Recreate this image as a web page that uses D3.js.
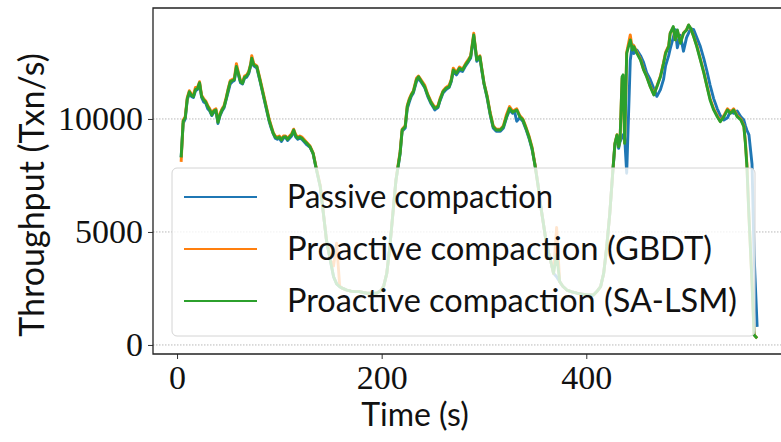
<!DOCTYPE html>
<html><head><meta charset="utf-8">
<script src="https://cdn.jsdelivr.net/npm/d3@7"></script>
<style>html,body{margin:0;padding:0;background:#fff;}svg{display:block;}</style>
</head><body>
<svg id="c" width="781" height="442"></svg>
<script>
const times = [4,6,8,10,12,14,16,18,20,22,24,26,28,30,32,34,36,38,40,42,44,46,48,50,52,54,56,58,60,62,64,66,68,70,72,73,75,78,81,84,87,90,92,94,96,98,100,102,104,106,108,110,112,114,116,118,120,122,124,127,130,133,136,140,143,146,150,153,156,159,162,166,170,174,178,182,186,190,195,199,202,205,208,211,214,216,218,220,223,225,227,229,231,234,236,239,242,245,248,250,252,255,257,260,263,266,268,270,273,276,279,282,285,287,290,291,293,296,298,300,303,306,309,312,316,319,322,325,328,330,332,335,338,341,344,347,350,353,355,358,360,363,365,368,371,374,377,381,386,391,396,401,407,411,414,417,420,423,426,428,430,431.6,433,435,436,437.5,439.5,443,445,446.5,449.5,453,456,459,462.5,466,469,472.5,475.5,477.5,480.5,482,485,487,489,492,495,498,500,502,505,508,511.5,515,518,521,524.5,528,531,534.5,538,541,544,547.5,551,554,555.5,557,559,562,564,567];

const passive = [8300,9800,10000,10850,11150,11000,10950,11250,11300,11550,10950,10750,10700,10450,10350,10150,10300,10350,9800,10150,10350,10500,10850,11200,11550,11650,11700,12250,11950,11600,11550,11800,11850,12000,12350,12600,12350,12250,11700,11100,10500,9900,9600,9350,9150,9100,9150,9000,9150,9200,9050,9150,9250,9450,9200,9100,9150,9100,9000,8850,8750,8450,7800,7000,5830,4650,3700,3020,2700,2580,2500,2430,2380,2360,2360,2320,2290,2290,2290,2400,2600,3170,4350,5830,7300,7850,8450,9450,9600,10450,10750,11000,11150,11650,11800,11600,11400,11000,10700,10550,10400,10500,10800,11150,11300,11400,11650,12100,11950,12150,12100,12350,12550,12700,13650,13300,12550,12700,12100,11550,10950,10200,9600,9450,9450,9600,10050,10400,10250,10300,9900,10050,9900,9550,9150,8650,7950,7050,6300,5400,4790,4100,3760,3170,3020,2800,2600,2430,2350,2290,2250,2210,2210,2400,2580,3170,4350,5830,7700,8850,9250,8700,9000,9200,9300,9200,7600,12600,13300,12900,13050,12800,12500,12050,11750,11350,11000,11300,11750,12350,12800,13100,13600,13950,13150,13700,13000,13600,13800,14000,13950,13600,13200,12650,12100,11500,10900,10450,10150,9950,10050,10350,10250,10350,10100,9950,9700,9500,9300,8000,4000,800,300];

const gbdt = [8100,9950,10100,10950,11250,11100,11050,11400,11400,11650,11050,10900,10800,10600,10450,10250,10400,10450,9900,10250,10450,10600,10950,11350,11700,11750,11800,12450,12050,11700,11650,11900,11950,12100,12450,12800,12450,12350,11800,11200,10600,10000,9700,9400,9250,9200,9250,9100,9250,9250,9150,9250,9350,9550,9300,9200,9250,9200,9100,8950,8800,8500,7850,7050,5850,4650,3750,3500,4500,2600,2500,2430,2380,2360,2360,2320,2290,2290,2290,2400,2600,3170,4350,5830,7300,7950,8550,9550,9700,10600,10900,11100,11250,11800,11900,11700,11500,11100,10800,10650,10500,10600,10900,11250,11400,11500,11750,12250,12050,12300,12200,12450,12650,12800,13800,13400,12650,12800,12200,11600,11050,10300,9700,9550,9550,9700,10200,10550,10350,10400,10450,10150,10000,9650,9250,8750,7950,7000,6270,5400,4790,4100,3760,3170,5200,2800,2600,2430,2350,2290,2250,2210,2210,2400,2580,3170,4350,5830,7740,8920,9300,8800,9100,11800,11900,8950,12950,13720,13100,13250,12950,12650,12200,11900,11450,11100,11450,11900,12500,12950,13250,13800,14050,13500,13900,13400,13800,13950,14150,14000,13650,13250,12650,12050,11450,10900,10450,10150,9900,10150,10450,10300,10450,10150,10000,9700,9000,8000,5700,2750,450,300];

const salsm = [8300,9900,10050,10900,11200,11050,10990,11300,11350,11600,11000,10850,10750,10550,10400,10180,10350,10400,9850,10180,10400,10550,10900,11300,11650,11700,11750,12320,12000,11650,11580,11850,11900,12050,12400,12690,12390,12320,11730,11140,10540,9950,9650,9370,9200,9150,9200,9070,9200,9220,9100,9200,9300,9510,9250,9150,9200,9150,9050,8920,8770,8480,7820,7000,5830,4650,3700,3020,2700,2580,2500,2430,2380,2360,2360,2320,2290,2290,2290,2400,2600,3170,4350,5830,7300,7890,8480,9510,9660,10540,10840,11060,11210,11730,11870,11650,11430,11060,10750,10600,10470,10540,10840,11210,11360,11430,11700,12170,12020,12240,12170,12400,12600,12760,13720,13350,12610,12760,12170,11580,10990,10250,9660,9510,9510,9660,10100,10470,10300,10350,10400,10100,9960,9600,9200,8700,7900,7000,6270,5400,4790,4100,3760,3170,4000,2800,2600,2430,2350,2290,2250,2210,2210,2400,2580,3170,4350,5830,7740,8920,9290,8770,9070,11870,11950,8920,12900,13500,13050,13200,12900,12610,12170,11870,11430,11060,11430,11870,12460,12900,13200,13790,14090,13500,13940,13350,13790,13940,14160,14010,13640,13200,12610,12020,11430,10840,10400,10100,9880,10100,10400,10250,10400,10100,9960,9660,8920,7890,5680,2730,440,300];

const seriesNames = ["Passive compaction","Proactive compaction (GBDT)","Proactive compaction (SA-LSM)"];
const seriesColors = ["#1f77b4","#ff7f0e","#2ca02c"];
const seriesValues = [passive, gbdt, salsm];
const xTicks = [0,200,400];
const yTicks = [0,5000,10000];

const svg = d3.select("#c");
const L = 153, R = 795, T = 8, B = 354;
const x = d3.scaleLinear().domain([-23.5, 604]).range([L, R]);
const y = d3.scaleLinear().domain([-400, 14910]).range([B, T]);

svg.append("defs").append("clipPath").attr("id","clip")
  .append("rect").attr("x",L).attr("y",T).attr("width",R-L).attr("height",B-T);

// grid
svg.append("g").selectAll("line").data(yTicks).join("line")
  .attr("x1",L).attr("x2",R).attr("y1",d=>y(d)).attr("y2",d=>y(d))
  .attr("stroke","#b8b8b8").attr("stroke-width",1).attr("stroke-dasharray","1.5,1.5");

// lines
const line = d3.line().x((d,i)=>x(times[i])).y(d=>y(d));
const lg = svg.append("g").attr("clip-path","url(#clip)");
seriesValues.forEach((vals,k)=>{
  lg.append("path").datum(vals).attr("d",line)
    .attr("fill","none").attr("stroke",seriesColors[k]).attr("stroke-width",2.9)
    .attr("stroke-linejoin","round");
});

// axes
const xAxis = d3.axisBottom(x).tickValues(xTicks).tickSize(5).tickPadding(6).tickFormat(d3.format("d"));
const yAxis = d3.axisLeft(y).tickValues(yTicks).tickSize(5).tickPadding(5).tickFormat(d3.format("d"));
const gx = svg.append("g").attr("transform",`translate(0,${B})`).call(xAxis);
const gy = svg.append("g").attr("transform",`translate(${L},0)`).call(yAxis);
[gx,gy].forEach(g=>{
  g.select(".domain").remove();
  g.selectAll(".tick line").attr("stroke","#333").attr("stroke-width",1);
  g.selectAll(".tick text").attr("fill","#111").style("font-family","'Liberation Serif', serif").style("font-size","34px");
});
gx.selectAll(".tick text").attr("dy","0.71em");

// spines
svg.append("path").attr("d",`M${R},${T}H${L}V${B}H${R}`).attr("fill","none")
  .attr("stroke","#222").attr("stroke-width",1.3);

// labels
svg.append("text").attr("x",415).attr("y",426).attr("text-anchor","middle")
  .style("font-family","Lato, sans-serif").style("font-size","32px").attr("fill","#111").text("Time (s)");
svg.append("text").attr("transform","translate(44,195) rotate(-90)").attr("text-anchor","middle")
  .style("font-family","Lato, sans-serif").style("font-size","34px").attr("fill","#111").text("Throughput (Txn/s)");

// legend
const leg = svg.append("g");
leg.append("rect").attr("x",172).attr("y",168).attr("width",583).attr("height",168).attr("rx",5)
  .attr("fill","#fff").attr("fill-opacity",0.8).attr("stroke","#d4d4d4").attr("stroke-width",1);
const legY = [197,249,301];
const legW = [266,425,450];
seriesNames.forEach((n,k)=>{
  leg.append("line").attr("x1",184).attr("x2",257).attr("y1",legY[k]).attr("y2",legY[k])
    .attr("stroke",seriesColors[k]).attr("stroke-width",2.2);
  leg.append("text").attr("x",287).attr("y",legY[k]+11)
    .style("font-family","Lato, sans-serif").style("font-size","33px").attr("fill","#111")
    .attr("textLength",legW[k]).attr("lengthAdjust","spacingAndGlyphs").text(n);
});
</script>
</body></html>
